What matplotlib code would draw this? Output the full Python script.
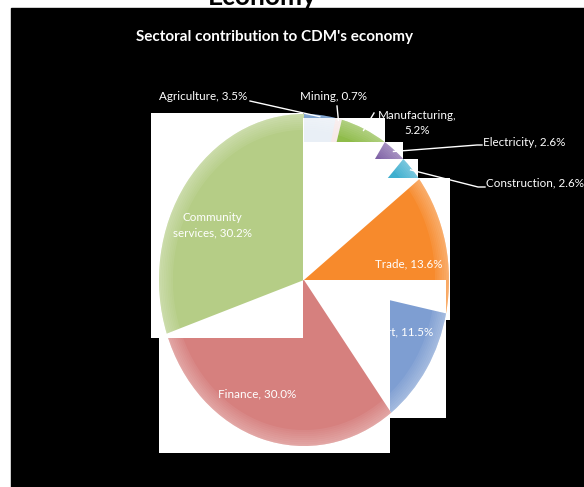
import matplotlib
matplotlib.use('Agg')
import numpy as np
from matplotlib import pyplot as plt
from matplotlib.patches import Rectangle, Wedge
from matplotlib.transforms import Bbox, TransformedBbox

plt.rcParams['font.family'] = ['Lato', 'DejaVu Sans']

# sector shares of CDM's economy (%)
sectors = ['Agriculture', 'Mining', 'Manufacturing', 'Electricity', 'Construction',
           'Trade', 'Transport', 'Finance', 'Community services']
shares = [3.5, 0.7, 5.2, 2.6, 2.6, 13.6, 11.5, 30.0, 30.2]
colors = ['#4f81bd', '#c0504d', '#8fbc4a', '#7f62a6', '#3fafcf',
          '#f78a2c', '#7e9ed2', '#d6807e', '#b5cd86']

W, H = 584, 487
cx, cy = 304, 280  # pie centre, pixels
rx, ry = 145, 166  # pie half-width / half-height, pixels
label_size = 8.4


def to_data(px, py):
    return (px - cx) / rx, (cy - py) / ry


fig = plt.figure(figsize=[W / 100, H / 100], dpi=100, facecolor='white')
# black plot area, white margin on the left and top
fig.patches.append(Rectangle((11 / W, 0), 1 - 11 / W, (H - 8) / H,
                             transform=fig.transFigure, color='black', zorder=-5))
fig.text(262 / W, 1 - 5 / H, 'Economy', color='black', fontsize=19,
         fontweight='bold', ha='center', va='baseline')

ax = fig.add_axes([0, 0, 1, 1])
ax.set_facecolor('none')


def box_clip(box):
    x0, y0 = to_data(box[0], box[3])
    x1, y1 = to_data(box[2], box[1])
    return TransformedBbox(Bbox.from_extents(x0, y0, x1, y1), ax.transData)


def draw_pie(show, clip=None, alpha=None, z=2):
    wedges, _ = ax.pie(shares, colors=colors, startangle=90, counterclock=False,
                       radius=1, center=(0, 0), wedgeprops=dict(linewidth=0))
    for name, w in zip(sectors, wedges):
        w.set_zorder(z)
        if name not in show:
            w.set_visible(False)
            continue
        if alpha is not None and name in alpha:
            w.set_alpha(alpha[name])
        # soft light rim like the Excel bevel
        parts = [w]
        for k in range(8):
            r = 1 - k * 0.012
            rim = Wedge((0, 0), r, w.theta1, w.theta2, width=0.012,
                        color='white', alpha=0.3 - k * 0.033, lw=0, zorder=z + 0.1)
            ax.add_patch(rim)
            parts.append(rim)
        box = clip.get(name) if clip else None
        if box is not None:
            for p in parts:
                p.set_clip_on(True)
                p.set_clip_path(None)
                p.set_clip_box(box_clip(box))
    return wedges


# whole pie underneath
wedges = draw_pie(sectors, z=1)

# white tiles laid over the pie, each showing only some sectors
tiles = [
    ((151, 113, 303, 338), ['Community services'], {}),
    ((303, 118, 385, 142), ['Agriculture', 'Mining', 'Manufacturing'], {}),
    ((303, 142, 403, 159), ['Electricity'], {}),
    ((303, 159, 418, 178), ['Construction'], {}),
    ((303, 178, 450, 320), ['Trade'], {}),
    ((303, 280, 446, 418), ['Finance', 'Transport'], {'Transport': (390, 280, 446, 418)}),
    ((159, 338, 390, 453), ['Finance'], {}),
]
for i, (box, show, sub) in enumerate(tiles):
    z = 3 + i * 2
    x0, y0 = to_data(box[0], box[3])
    x1, y1 = to_data(box[2], box[1])
    ax.add_patch(Rectangle((x0, y0), x1 - x0, y1 - y0, color='white', lw=0, zorder=z))
    clip = {name: sub.get(name, box) for name in show}
    draw_pie(show, clip=clip, alpha={'Agriculture': 0.12, 'Mining': 0.12}, z=z + 1)

# labels inside the pie
inside = {
    'Community services': ((212, 225), 'Community\nservices, 30.2%', 'center'),
    'Trade': ((442, 264), 'Trade, 13.6%', 'right'),
    'Transport': ((433, 332), 'Transport, 11.5%', 'right'),
    'Finance': ((257, 394), 'Finance, 30.0%', 'center'),
}
for name, (pos, txt, ha) in inside.items():
    ax.text(*to_data(*pos), txt, color='white', fontsize=label_size, ha=ha, va='center',
            linespacing=1.45, zorder=40)

# labels outside with leader lines to the rim
outside = {
    'Agriculture': ((159, 97), 'left', [(250, 101)]),
    'Mining': ((300, 97), 'left', [(337, 106)]),
    'Manufacturing': ((417, 123), 'center', [(374, 113)]),
    'Electricity': ((483, 142), 'left', [(482, 145), (477, 145)]),
    'Construction': ((486, 183), 'left', [(485, 187), (478, 187)]),
}
for name, (pos, ha, pts) in outside.items():
    i = sectors.index(name)
    text = '{}, {:.1f}%'.format(name, shares[i])
    if name == 'Manufacturing':
        text = 'Manufacturing,\n5.2%'
    ax.text(*to_data(*pos), text, color='white', fontsize=label_size, ha=ha, va='center',
            linespacing=1.45, zorder=40)
    w = wedges[i]
    mid = np.deg2rad((w.theta1 + w.theta2) / 2)
    xs = [to_data(*p)[0] for p in pts] + [0.99 * np.cos(mid)]
    ys = [to_data(*p)[1] for p in pts] + [0.99 * np.sin(mid)]
    ax.plot(xs, ys, color='white', lw=1, zorder=39)

ax.text(*to_data(274, 37), "Sectoral contribution to CDM's economy", color='white',
        fontsize=11, fontweight='bold', ha='center', va='center', zorder=40)

ax.set_aspect('auto')
ax.set_xlim(to_data(0, 0)[0], to_data(W, 0)[0])
ax.set_ylim(to_data(0, H)[1], to_data(0, 0)[1])
ax.axis('off')
fig.savefig('out.png', dpi=100, facecolor='white')
